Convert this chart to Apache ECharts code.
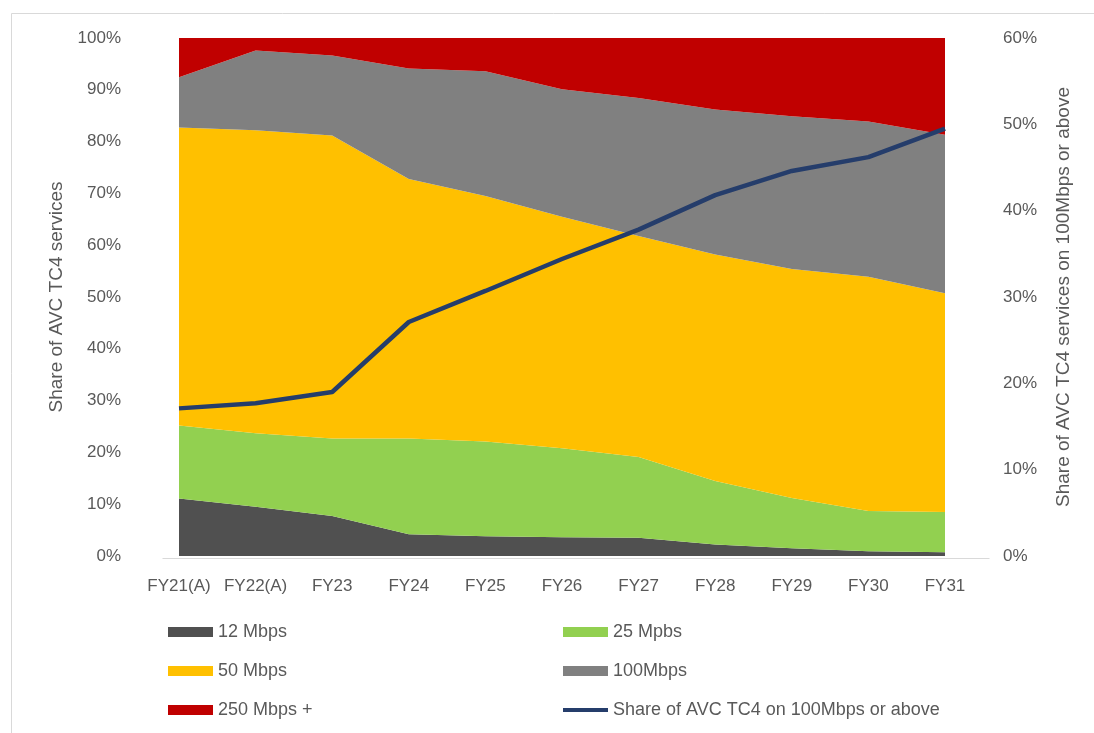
<!DOCTYPE html>
<html>
<head>
<meta charset="utf-8">
<script src="https://cdn.jsdelivr.net/npm/echarts@6/dist/echarts.min.js"></script>
<style>
  html, body { margin: 0; padding: 0; background: #ffffff; }
  #chart { width: 1094px; height: 733px; }
</style>
</head>
<body>
<div id="chart"></div>
<script>
// Financial years on the category axis
const years = ['FY21(A)', 'FY22(A)', 'FY23', 'FY24', 'FY25', 'FY26', 'FY27', 'FY28', 'FY29', 'FY30', 'FY31'];

// Share of AVC TC4 services by speed tier (%, stacks to 100)
const mbps12  = [11.1, 9.5, 7.7, 4.2, 3.8, 3.6, 3.5, 2.2, 1.5, 0.9, 0.7];
const mbps25  = [14.1, 14.2, 15.0, 18.5, 18.3, 17.2, 15.6, 12.3, 9.7, 7.8, 7.8];
const mbps50  = [57.5, 58.5, 58.5, 50.1, 47.4, 44.7, 42.7, 43.7, 44.2, 45.2, 42.2];
const mbps100 = [9.7, 15.4, 15.4, 21.3, 24.1, 24.6, 26.6, 28.0, 29.5, 30.0, 30.6];
const mbps250 = [7.6, 2.4, 3.4, 5.9, 6.4, 9.9, 11.6, 13.8, 15.1, 16.1, 18.7];

// Share of services on 100Mbps or above (%, right axis)
const share100Plus = [17.1, 17.7, 19.0, 27.1, 30.7, 34.4, 37.8, 41.8, 44.6, 46.2, 49.5];

const FONT = "'Liberation Sans', Arial, sans-serif";
const TEXT = '#595959';

const chart = echarts.init(document.getElementById('chart'), null, { renderer: 'canvas' });

function areaSeries(name, data, color) {
  return {
    name: name,
    type: 'line',
    stack: 'tiers',
    data: data,
    symbol: 'none',
    smooth: false,
    lineStyle: { width: 0, color: color },
    itemStyle: { color: color },
    areaStyle: { color: color, opacity: 1 },
    emphasis: { disabled: true }
  };
}

const legendCommon = {
  orient: 'vertical',
  padding: 0,
  itemWidth: 45,
  itemHeight: 10,
  itemGap: 21,
  textStyle: { fontFamily: FONT, fontSize: 18, color: TEXT, lineHeight: 18 },
  selectedMode: false
};

chart.setOption({
  animation: false,
  backgroundColor: '#ffffff',
  textStyle: { fontFamily: FONT },
  grid: { left: 179, right: 149, top: 38, bottom: 177, containLabel: false },
  xAxis: {
    type: 'category',
    data: years,
    boundaryGap: false,
    axisLine: { show: false },
    axisTick: { show: false },
    axisLabel: { color: TEXT, fontSize: 17, fontFamily: FONT, margin: 22, interval: 0, hideOverlap: false }
  },
  yAxis: [
    {
      type: 'value',
      min: 0, max: 100, interval: 10,
      name: 'Share of AVC TC4 services',
      nameLocation: 'middle',
      nameGap: 113,
      nameTextStyle: { color: TEXT, fontSize: 19, fontFamily: FONT },
      axisLine: { show: false },
      axisTick: { show: false },
      splitLine: { show: false },
      axisLabel: { color: TEXT, fontSize: 17, fontFamily: FONT, margin: 58, formatter: '{value}%' }
    },
    {
      type: 'value',
      min: 0, max: 60, interval: 10,
      name: 'Share of AVC TC4 services on 100Mbps or above',
      nameLocation: 'middle',
      nameGap: 109,
      nameTextStyle: { color: TEXT, fontSize: 19, fontFamily: FONT },
      axisLine: { show: false },
      axisTick: { show: false },
      splitLine: { show: false },
      axisLabel: { color: TEXT, fontSize: 17, fontFamily: FONT, margin: 58, formatter: '{value}%' }
    }
  ],
  legend: [
    Object.assign({}, legendCommon, {
      left: 168, top: 623,
      data: [
        { name: '12 Mbps', icon: 'rect' },
        { name: '50 Mbps', icon: 'rect' },
        { name: '250 Mbps +', icon: 'rect' }
      ]
    }),
    Object.assign({}, legendCommon, {
      left: 563, top: 623,
      data: [
        { name: '25 Mpbs', icon: 'rect' },
        { name: '100Mbps', icon: 'rect' },
        { name: 'Share of AVC TC4 on 100Mbps or above', icon: 'path://M0,0H45V4H0Z' }
      ]
    })
  ],
  // frame around the chart and the category baseline
  graphic: [
    {
      type: 'rect',
      left: 9, top: 11,
      shape: { width: 1100, height: 740 },
      style: { fill: 'none', stroke: '#d9d9d9', lineWidth: 1 },
      silent: true
    },
    {
      type: 'line',
      left: 160, top: 556,
      shape: { x1: 0, y1: 0, x2: 827, y2: 0 },
      style: { stroke: '#d9d9d9', lineWidth: 1 },
      silent: true,
      z: 10
    }
  ],
  series: [
    areaSeries('12 Mbps', mbps12, '#505050'),
    areaSeries('25 Mpbs', mbps25, '#92D050'),
    areaSeries('50 Mbps', mbps50, '#FFC000'),
    areaSeries('100Mbps', mbps100, '#808080'),
    areaSeries('250 Mbps +', mbps250, '#C00000'),
    {
      name: 'Share of AVC TC4 on 100Mbps or above',
      type: 'line',
      yAxisIndex: 1,
      data: share100Plus,
      symbol: 'none',
      z: 5,
      lineStyle: { width: 4.5, color: '#253D6B' },
      itemStyle: { color: '#253D6B' },
      emphasis: { disabled: true }
    }
  ]
});
</script>
</body>
</html>
